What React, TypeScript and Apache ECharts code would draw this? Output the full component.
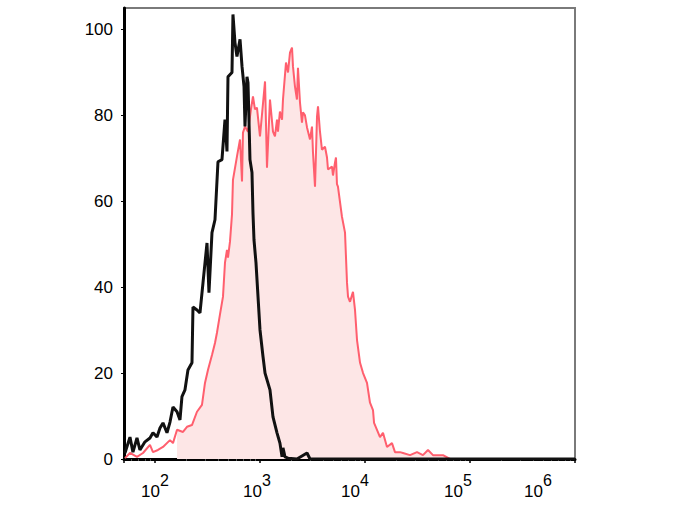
import React, { useEffect, useRef } from "react";
import * as echarts from "echarts";

// Unstained / control histogram (black outline)
const blackX = [51.8, 57.8, 61.7, 67.4, 71.9, 80.3, 89.6, 95.7, 104.5, 111.6, 119.2, 130.1, 139, 148.4, 162.2, 173, 180.7, 193.1, 206.1, 225.1, 230.1, 251.2, 268.3, 286.6, 312.9, 326.7, 349.1, 372.8, 398.1, 434.6, 464.2, 485, 495.7, 541.2, 553, 577.6, 603.4, 645.6, 674.3, 704.7, 720, 752, 769, 803, 839, 857.6, 877, 916, 1000, 1069, 1117, 1245, 1330, 1452, 1549, 1622, 1656, 1730, 1849, 2249, 2805, 2995, 1000000];
const blackY = [1.4, 5.1, 1.6, 4.9, 2.1, 4.0, 4.9, 6.1, 5.1, 7.2, 8.4, 6.1, 8.6, 12.1, 11.0, 9.1, 14.5, 16.1, 20.7, 22.4, 35.4, 34.7, 34.0, 41.0, 50.3, 38.7, 52.7, 55.7, 69.2, 69.7, 79.0, 71.6, 89.0, 90.0, 103.5, 97.0, 93.7, 97.7, 91.4, 86.7, 77.4, 89.0, 87.6, 69.7, 66.7, 57.3, 51.0, 45.7, 30.1, 23.8, 20.0, 16.1, 9.8, 6.1, 3.7, 0.5, 2.6, 0.5, 0.2, 0, 1.4, 0, 0];

// Stained sample histogram (red, filled)
const redX = [51.8, 57.8, 67.4, 76.9, 89.6, 95.7, 106.8, 119.2, 139, 148.4, 162.2, 184.8, 201.8, 225.1, 251.2, 280.3, 299.4, 319.6, 349.1, 372.8, 389.3, 415.6, 444.4, 464.2, 485, 495.7, 518, 541.2, 553, 603.4, 645.6, 674.3, 688.7, 720, 769, 820.4, 857.6, 895.8, 935.8, 1000, 1117, 1166, 1245, 1330, 1389, 1452, 1483, 1549, 1622, 1656, 1769, 1849, 1931, 2018, 2062, 2154, 2249, 2300, 2404, 2512, 2567, 2683, 2805, 2995, 3129, 3198, 3342, 3492, 3569, 3727, 3893, 4160, 4348, 4443, 4852, 4958, 5179, 5293, 5409, 5528, 6036, 6453, 6743, 6893, 7197, 7686, 8035, 8397, 8973, 9583, 10449, 11160, 11918, 12200, 13010, 13895, 14840, 16200, 18070, 19307, 21540, 23000, 26827, 31290, 35640, 39811, 44430, 55300, 64500, 1000000];
const redY = [0.2, 1.4, 0.5, 1.4, 3.3, 1.6, 2.1, 2.8, 4.4, 3.7, 6.8, 6.3, 7.5, 7.9, 11.0, 12.6, 17.7, 20.7, 24.2, 27.0, 29.4, 33.6, 37.8, 45.7, 48.7, 46.9, 50.6, 56.9, 65.0, 70.4, 74.4, 64.6, 76.0, 77.4, 76.2, 81.4, 84.4, 81.4, 81.8, 75.1, 87.9, 67.8, 83.7, 76.2, 75.1, 79.0, 76.2, 80.9, 79.0, 83.7, 92.3, 90.0, 94.6, 95.8, 91.4, 86.7, 83.7, 91.1, 83.0, 78.3, 80.7, 80.0, 77.2, 74.4, 77.4, 71.3, 63.4, 79.7, 82.1, 76.2, 72.0, 72.7, 70.2, 67.4, 68.1, 66.0, 69.0, 70.2, 64.0, 63.4, 56.4, 52.7, 41.0, 37.8, 36.6, 38.9, 34.7, 27.7, 22.4, 20.0, 17.7, 13.1, 11.4, 8.4, 6.8, 5.1, 6.1, 2.8, 3.7, 1.6, 1.6, 1.4, 0.9, 1.6, 0.9, 2.1, 0.9, 0.9, 0, 0];

// Gate where the shaded area of the red histogram starts
const fillStart = 160;

const xMin = 50.7;
const xMax = 1000000;
const yMin = 0;
const yMax = 105;
const yInterval = 20;

export default function App() {
  const ref = useRef<HTMLDivElement>(null);

  useEffect(() => {
    if (!ref.current) return;
    const chart = echarts.init(ref.current, undefined, { renderer: "svg" });

    const blackData = blackX.map((x, i) => [x, blackY[i]]);
    const redData = redX.map((x, i) => [x, redY[i]]);
    const redFill = redData.filter((d) => d[0] >= fillStart);

    const shift: Record<number, number> = { 2: 0, 3: 3, 4: 10, 5: 12, 6: 37 };
    const font = "Liberation Sans, Arial, sans-serif";
    const rich: Record<string, any> = {
      b: { fontSize: 17, lineHeight: 39, color: "#000", fontFamily: font },
    };
    for (const e of [2, 3, 4, 5, 6]) {
      rich["s" + e] = {
        fontSize: 16,
        lineHeight: 18,
        verticalAlign: "top",
        color: "#000",
        fontFamily: font,
        padding: [0, shift[e] * 2, 0, 0],
      };
    }

    chart.setOption({
      animation: false,
      backgroundColor: "#fff",
      grid: {
        left: 124,
        right: 113,
        top: 8,
        bottom: 65,
        show: true,
        borderColor: "#7a7a7a",
        borderWidth: 2,
        backgroundColor: "transparent",
      },
      xAxis: {
        type: "log",
        logBase: 10,
        min: xMin,
        max: xMax,
        axisLine: { show: true, onZero: false, lineStyle: { color: "#000", width: 3 } },
        axisTick: { show: true, length: 4, lineStyle: { color: "#000", width: 1.5 } },
        minorTick: { show: true, splitNumber: 9, length: 2, lineStyle: { color: "#555", width: 1 } },
        splitLine: { show: false },
        minorSplitLine: { show: false },
        axisLabel: {
          margin: 13,
          showMinLabel: true,
          showMaxLabel: true,
          hideOverlap: false,
          formatter: (v: number) => {
            const e = Math.round(Math.log10(v));
            if (Math.abs(Math.log10(v) - e) > 1e-6 || e < 2 || e > 6) return "";
            return `{b|10}{s${e}|${e}}`;
          },
          rich,
        },
      },
      yAxis: {
        type: "value",
        min: yMin,
        max: yMax,
        interval: yInterval,
        axisLine: { show: true, lineStyle: { color: "#000", width: 3 } },
        axisTick: { show: true, length: 3, lineStyle: { color: "#000", width: 1 } },
        splitLine: { show: false },
        axisLabel: {
          margin: 11,
          color: "#000",
          fontSize: 17,
          fontFamily: font,
          showMaxLabel: false,
          formatter: (v: number) => (v % yInterval === 0 ? String(v) : ""),
        },
      },
      series: [
        {
          name: "fill",
          type: "line",
          data: redFill,
          showSymbol: false,
          symbol: "none",
          lineStyle: { width: 0, color: "#fde6e6" },
          areaStyle: { color: "#fde6e6", opacity: 1 },
          silent: true,
          z: 1,
        },
        {
          name: "stained",
          type: "line",
          data: redData,
          showSymbol: false,
          symbol: "none",
          lineStyle: { width: 2, color: "#ff5f6e" },
          z: 2,
        },
        {
          name: "control",
          type: "line",
          data: blackData,
          showSymbol: false,
          symbol: "none",
          lineStyle: { width: 3, color: "#111" },
          z: 3,
        },
      ],
    });

    return () => chart.dispose();
  }, []);

  return (
    <div
      ref={ref}
      style={{ position: "fixed", left: 0, top: 0, width: 688, height: 524, background: "#fff" }}
    />
  );
}
